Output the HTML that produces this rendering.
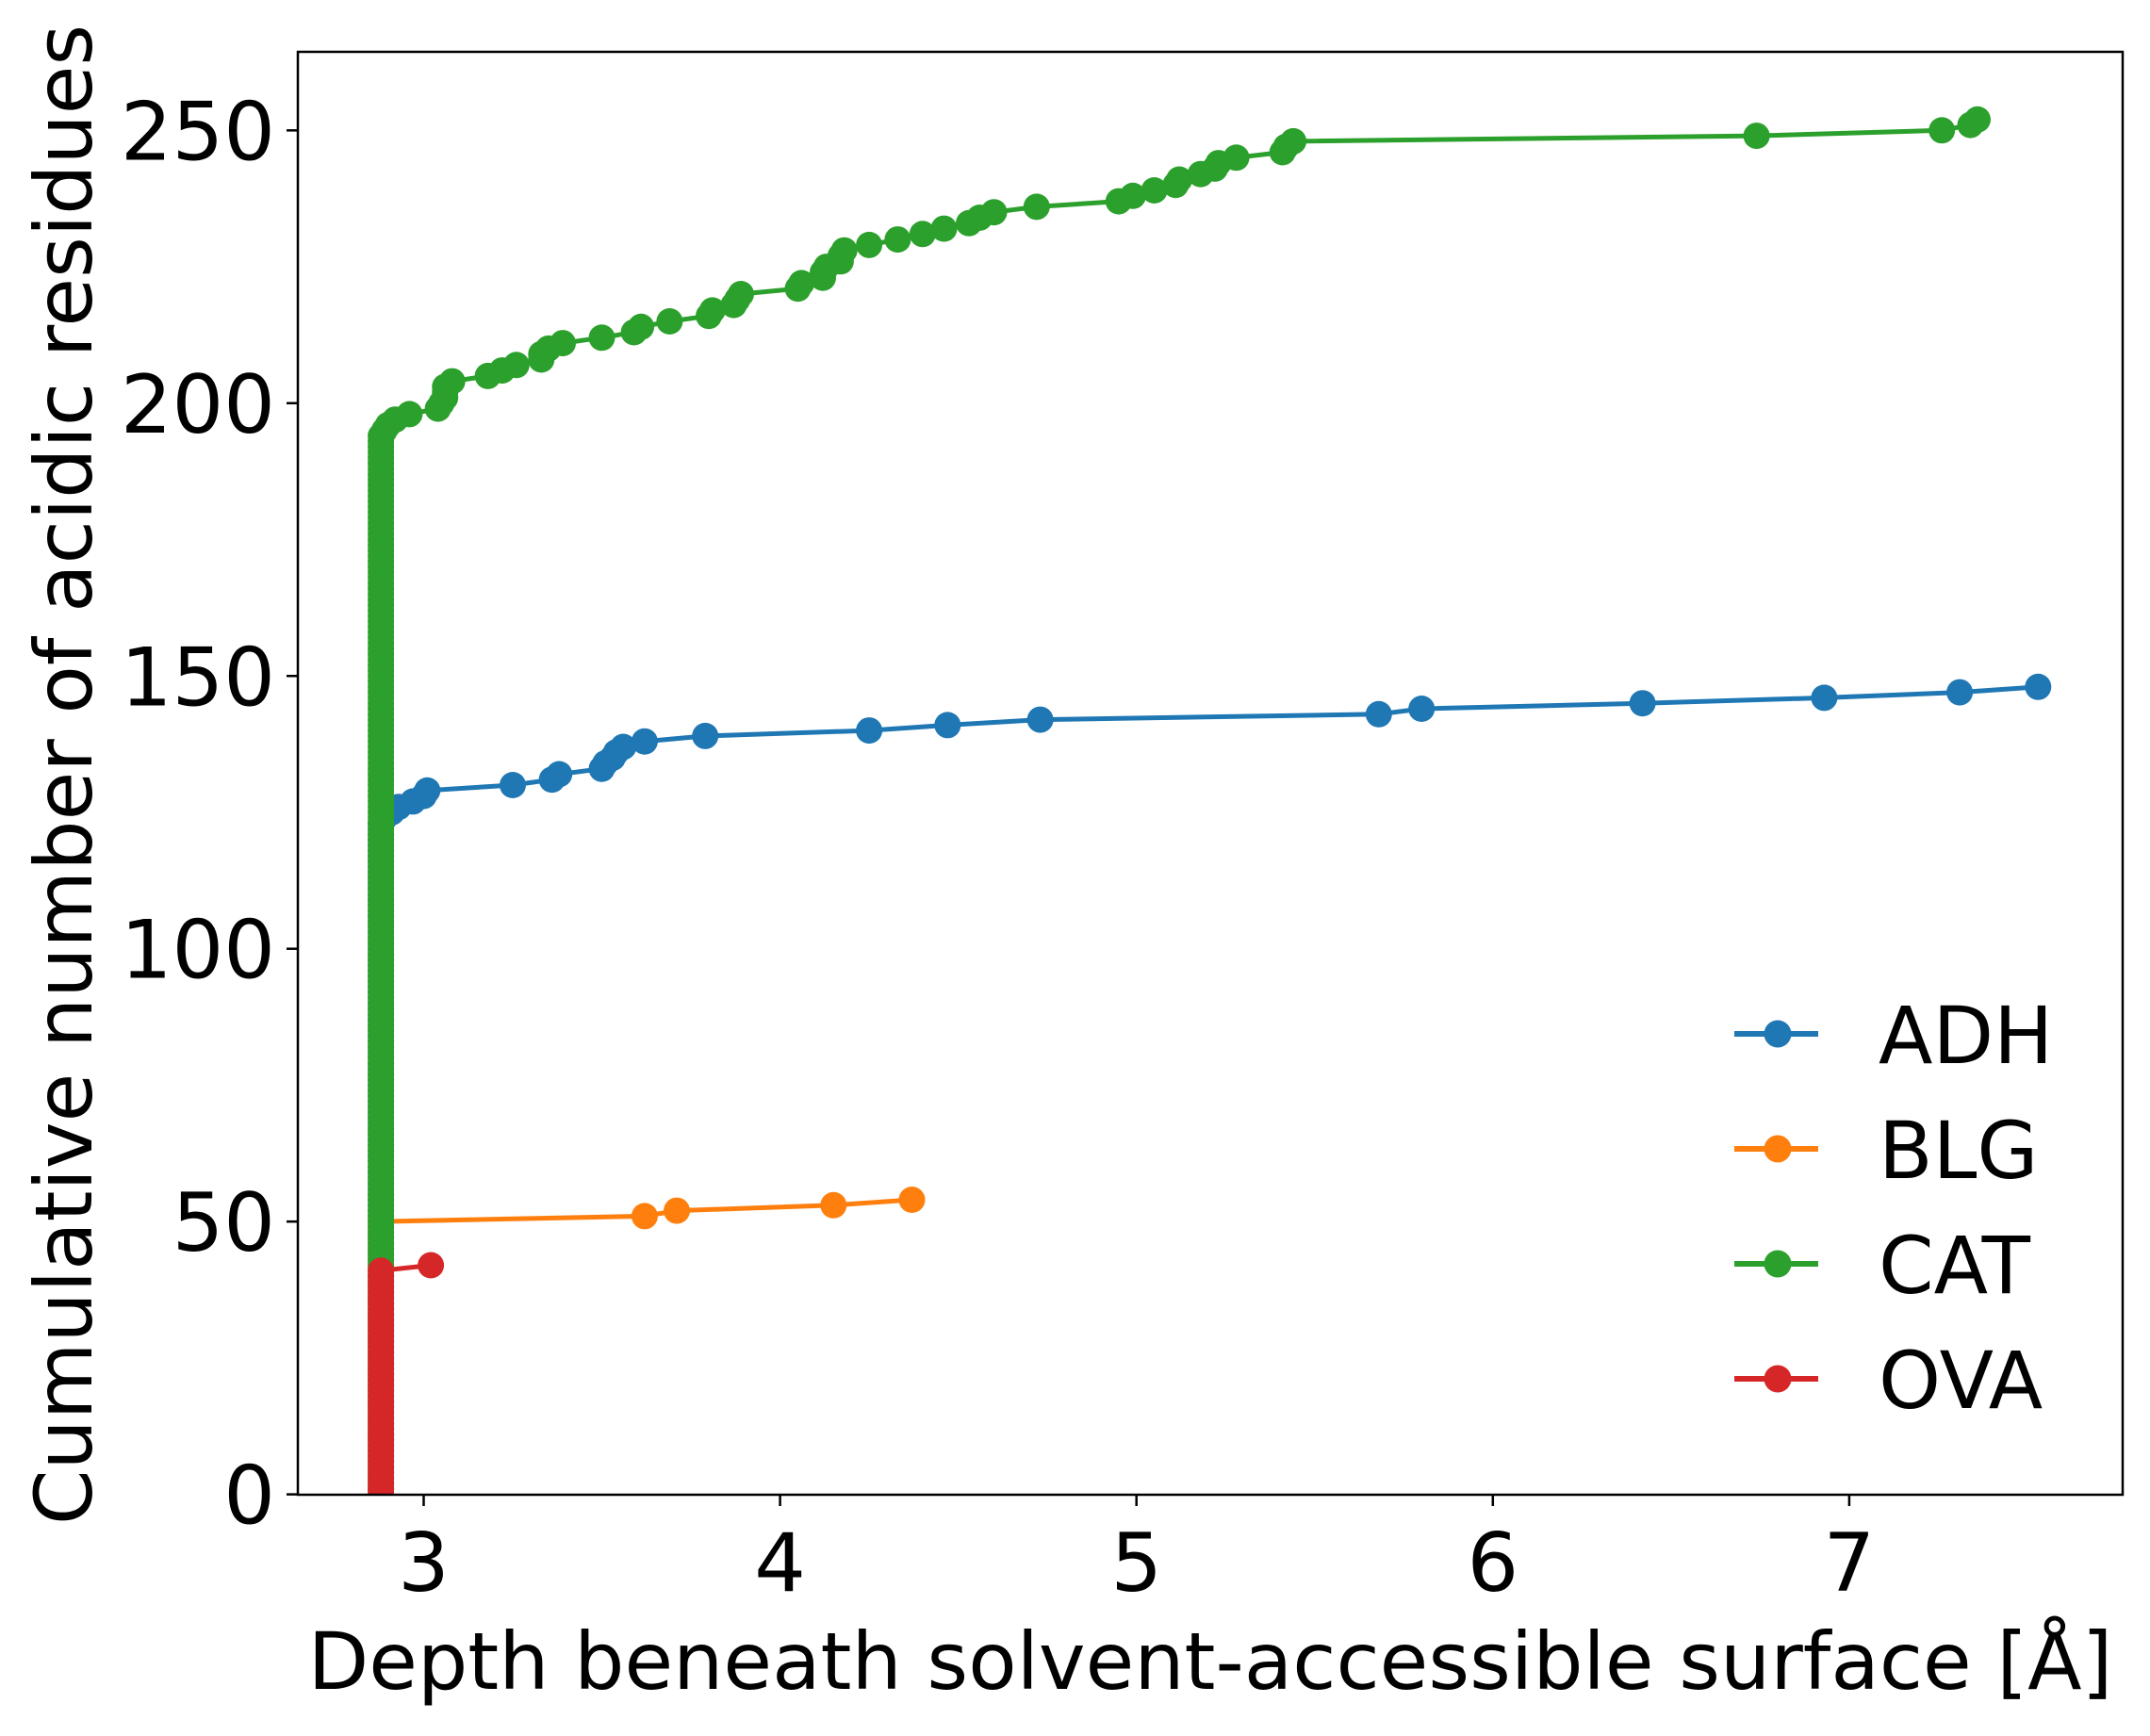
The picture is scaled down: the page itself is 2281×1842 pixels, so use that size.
<!DOCTYPE html>
<html><head><meta charset="utf-8"><style>
html,body{margin:0;padding:0;background:#fff;}
svg{display:block;font-family:"DejaVu Sans","Liberation Sans",sans-serif;}
</style></head><body>
<svg id="chart" width="2281" height="1842" viewBox="0 0 2281 1842" xmlns="http://www.w3.org/2000/svg">
<rect x="0" y="0" width="2281" height="1842" fill="#fff"/>
<g id="plot"></g>
<g id="axes"></g>
</svg>
<script>
const xTicks=[3,4,5,6,7];
const yTicks=[0,50,100,150,200,250];
const seriesNames=["ADH","BLG","CAT","OVA"];
const seriesColors=["#1f77b4","#ff7f0e","#2ca02c","#d62728"];
const baseDepth=[2.88,2.88,2.88,2.88];
const baseCount=[123,50,194,41];
const adhDepth=[2.89,2.91,2.93,2.97,3.00,3.01,3.25,3.36,3.38,3.50,3.51,3.53,3.54,3.56,3.62,3.79,4.25,4.47,4.73,5.68,5.80,6.42,6.93,7.31,7.53];
const adhCount=[124,125,126,127,128,129,130,131,132,133,134,135,136,137,138,139,140,141,142,143,144,145,146,147,148];
const blgDepth=[3.62,3.71,4.15,4.37];
const blgCount=[51,52,53,54];
const catDepth=[2.89,2.90,2.92,2.96,3.04,3.05,3.06,3.06,3.06,3.08,3.18,3.22,3.26,3.33,3.33,3.35,3.39,3.50,3.59,3.61,3.69,3.80,3.81,3.87,3.88,3.89,4.05,4.06,4.12,4.12,4.13,4.17,4.17,4.18,4.25,4.33,4.40,4.46,4.53,4.56,4.60,4.72,4.95,4.99,5.05,5.11,5.12,5.18,5.22,5.23,5.28,5.41,5.42,5.44,6.74,7.26,7.34,7.36];
const catCount=[195,196,197,198,199,200,201,202,203,204,205,206,207,208,209,210,211,212,213,214,215,216,217,218,219,220,221,222,223,224,225,226,227,228,229,230,231,232,233,234,235,236,237,238,239,240,241,242,243,244,245,246,247,248,249,250,251,252];
const ovaDepth=[3.02];
const ovaCount=[42];

const NS="http://www.w3.org/2000/svg";
const L=316,R=2252,T=55,B=1586;
function xs(v){return 449.5+(v-3)*378.1;}
function ys(v){return 1585.6-v*5.789;}
function mk(tag,attrs,parent){const e=document.createElementNS(NS,tag);for(const k in attrs)e.setAttribute(k,attrs[k]);parent.appendChild(e);return e;}
const plot=document.getElementById('plot');
const axes=document.getElementById('axes');
const tails=[[adhDepth,adhCount],[blgDepth,blgCount],[catDepth,catCount],[ovaDepth,ovaCount]];
const cp=mk('clipPath',{id:'clip'},plot);
mk('rect',{x:L,y:T,width:R-L,height:B-T},cp);
for(let s=0;s<4;s++){
  const g=mk('g',{'clip-path':'url(#clip)'},plot);
  
  
  const pts=[];
  for(let i=0;i<=baseCount[s];i++)pts.push([baseDepth[s],i]);
  const [d,c]=tails[s];
  for(let i=0;i<d.length;i++)pts.push([d[i],c[i]]);
  const line=mk('polyline',{points:pts.map(p=>xs(p[0]).toFixed(1)+','+ys(p[1]).toFixed(1)).join(' '),fill:'none',stroke:seriesColors[s],'stroke-width':5},g);
  
  
  for(const p of pts){
    const m=mk('circle',{cx:xs(p[0]).toFixed(1),cy:ys(p[1]).toFixed(1),r:14,fill:seriesColors[s]},g);
    
    
  }
}
const fr=mk('rect',{x:L,y:T,width:R-L,height:B-T,fill:'none',stroke:'#000','stroke-width':2.5},axes);


for(const t of xTicks){
  const x=xs(t);
  const tk=mk('line',{x1:x,x2:x,y1:B,y2:B+12,stroke:'#000','stroke-width':2.5},axes);
  
  
  const tx=mk('text',{x:x,y:B+102,'font-size':86,'text-anchor':'middle',fill:'#000'},axes);
  tx.textContent=t;
  
  
}
for(const t of yTicks){
  const y=ys(t);
  const tk=mk('line',{x1:L-12,x2:L,y1:y,y2:y,stroke:'#000','stroke-width':2.5},axes);
  
  
  const tx=mk('text',{x:L-24,y:y+31,'font-size':86,'text-anchor':'end',fill:'#000'},axes);
  tx.textContent=t;
  
  
}
const xt=mk('text',{x:1284,y:1792,'font-size':84,'text-anchor':'middle',fill:'#000'},axes);
xt.textContent='Depth beneath solvent-accessible surface [Å]';


const yt=mk('text',{x:0,y:0,'font-size':84,'text-anchor':'middle',fill:'#000',transform:'translate(97,822) rotate(-90)'},axes);
yt.textContent='Cumulative number of acidic residues';


const lg=mk('g',{},axes);


for(let s=0;s<4;s++){
  const y=1097+s*122;
  const e=mk('g',{},lg);
  
  
  mk('line',{x1:1840,x2:1929,y1:y,y2:y,stroke:seriesColors[s],'stroke-width':6},e);
  mk('circle',{cx:1886,cy:y,r:14.5,fill:seriesColors[s]},e);
  const tx=mk('text',{x:1993,y:y+31,'font-size':84,fill:'#000'},e);
  tx.textContent=seriesNames[s];
}
</script>
</body></html>
